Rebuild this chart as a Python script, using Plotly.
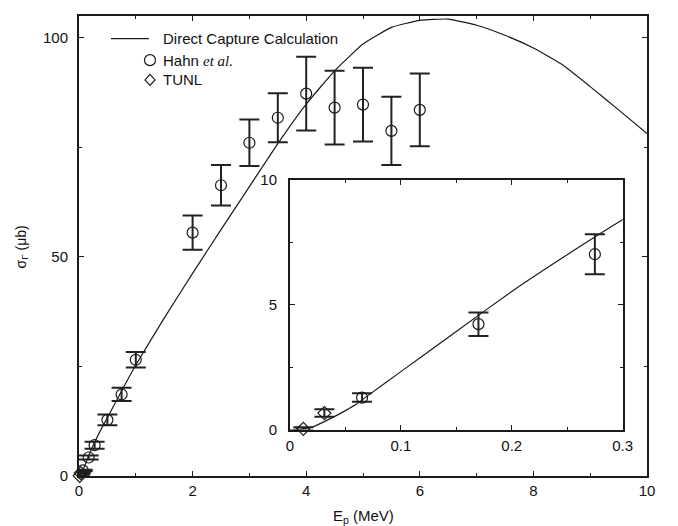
import plotly.graph_objects as go

# ---------------- data ----------------
calc_x = [0, 0.01, 0.02, 0.03, 0.04, 0.05, 0.06, 0.07, 0.1, 0.15, 0.2, 0.25, 0.3, 0.4, 0.5,
          0.75, 1.0, 1.5, 2.0, 2.5, 3.0, 3.5, 4.0, 4.5, 5.0, 5.5, 6.0,
          6.5, 7.0, 7.5, 8.0, 8.5, 9.0, 9.5, 10.0]
calc_y = [0, 0.02, 0.1, 0.3, 0.52, 0.76, 1.02, 1.35, 2.32, 3.93, 5.53, 7.0, 8.4, 10.9, 13.3,
          19.4, 25.3, 36.0, 46.2, 56.2, 66.0, 75.8, 84.8, 92.4, 98.5, 102.3, 103.9,
          104.2, 102.8, 100.5, 97.6, 93.9, 88.8, 83.5, 78.1]

hahn_x = [0.065, 0.17, 0.275, 0.5, 0.75, 1.0, 2.0, 2.5, 3.0, 3.5, 4.0, 4.5, 5.0, 5.5, 6.0]
hahn_y = [1.28, 4.22, 7.02, 12.8, 18.6, 26.5, 55.5, 66.3, 76.0, 81.7, 87.2, 84.0, 84.7, 78.7, 83.5]
hahn_err = [0.17, 0.47, 0.8, 1.2, 1.5, 1.75, 3.9, 4.6, 5.3, 5.6, 8.4, 8.4, 8.4, 7.8, 8.3]

tunl_x = [0.012, 0.031]
tunl_y = [0.03, 0.66]
tunl_err = [0.06, 0.15]

main_xticks = [0, 2, 4, 6, 8, 10]
main_yticks = [0, 50, 100]
inset_xticks = [0, 0.1, 0.2, 0.3]
inset_yticks = [0, 5, 10]

INK = "#1a1a1a"
FONT = "Liberation Sans, Arial, Helvetica, sans-serif"

fig = go.Figure()


def add_set(xa, ya, xs_limit):
    if xs_limit is None:
        hx, hy, he = hahn_x, hahn_y, hahn_err
        tx, ty, te = tunl_x, tunl_y, tunl_err
    else:
        idx = [i for i, v in enumerate(hahn_x) if v <= xs_limit]
        hx = [hahn_x[i] for i in idx]
        hy = [hahn_y[i] for i in idx]
        he = [hahn_err[i] for i in idx]
        idt = [i for i, v in enumerate(tunl_x) if v <= xs_limit]
        tx = [tunl_x[i] for i in idt]
        ty = [tunl_y[i] for i in idt]
        te = [tunl_err[i] for i in idt]
    fig.add_trace(go.Scatter(x=calc_x, y=calc_y, mode="lines", xaxis=xa, yaxis=ya,
                             line=dict(color=INK, width=1.2, shape="spline", smoothing=0.4),
                             showlegend=False, hoverinfo="skip"))
    fig.add_trace(go.Scatter(x=hx, y=hy, mode="markers", xaxis=xa, yaxis=ya,
                             cliponaxis=False,
                             marker=dict(symbol="circle-open", size=11, color=INK,
                                         line=dict(width=1.2, color=INK)),
                             error_y=dict(type="data", array=he, visible=True,
                                          thickness=2, width=10, color="#222"),
                             showlegend=False))
    fig.add_trace(go.Scatter(x=tx, y=ty, mode="markers", xaxis=xa, yaxis=ya,
                             cliponaxis=False,
                             marker=dict(symbol="diamond-open", size=10, color=INK,
                                         line=dict(width=1.2, color=INK)),
                             error_y=dict(type="data", array=te, visible=True,
                                          thickness=2, width=10, color="#222"),
                             showlegend=False))


add_set("x", "y", None)
add_set("x2", "y2", 0.3)

axis_common = dict(showline=True, linecolor=INK, linewidth=2, mirror="ticks",
                   ticks="inside", ticklen=5, tickwidth=1.2, tickcolor=INK,
                   showgrid=False, zeroline=False,
                   tickfont=dict(family=FONT, size=15, color="#111"))

fig.update_layout(
    width=678, height=526,
    margin=dict(l=79, r=31, t=7, b=50),
    paper_bgcolor="white", plot_bgcolor="white",
    showlegend=False,
    xaxis=dict(domain=[0, 1], range=[0, 10], tickvals=main_xticks,
               minor=dict(dtick=1, tick0=0, ticks="inside", ticklen=3, tickwidth=1.2, tickcolor=INK),
               ticklabelstandoff=0, **axis_common),
    yaxis=dict(domain=[0, 1], range=[0, 104.9], tickvals=main_yticks,
               minor=dict(dtick=25, tick0=0, ticks="inside", ticklen=3, tickwidth=1.2, tickcolor=INK),
               ticklabelstandoff=6, **axis_common),
    xaxis2=dict(domain=[0.3715, 0.957], range=[0, 0.3], anchor="y2", tickvals=inset_xticks,
                ticktext=["0", "0.1", "0.2", "0.3"],
                minor=dict(dtick=0.05, tick0=0, ticks="inside", ticklen=3, tickwidth=1.2, tickcolor=INK),
                ticklabelstandoff=1, **axis_common),
    yaxis2=dict(domain=[0.1009, 0.644], range=[0, 10], anchor="x2", tickvals=inset_yticks,
                minor=dict(dtick=2.5, tick0=0, ticks="inside", ticklen=3, tickwidth=1.2, tickcolor=INK),
                ticklabelstandoff=8, **axis_common),
)

# Legend (drawn manually)
fig.add_shape(type="line", xref="paper", yref="paper", x0=0.0563, x1=0.1232, y0=0.951, y1=0.951,
              line=dict(color=INK, width=1.3))
fig.add_shape(type="circle", xref="paper", yref="paper", xsizemode="pixel", ysizemode="pixel",
              xanchor=0.125, yanchor=0.904, x0=-5.5, x1=5.5, y0=-5.5, y1=5.5,
              line=dict(color=INK, width=1.2))
fig.add_shape(type="path", xref="paper", yref="paper", xsizemode="pixel", ysizemode="pixel",
              xanchor=0.125, yanchor=0.861, path="M 0,5.5 L 5,0 L 0,-5.5 L -5,0 Z",
              line=dict(color=INK, width=1.2))

leg_font = dict(family=FONT, size=15, color="#111")
fig.add_annotation(x=0.1444, y=0.951, xref="paper", yref="paper", xanchor="left", yanchor="middle",
                   text="Direct Capture Calculation", showarrow=False, font=leg_font)
fig.add_annotation(x=0.1444, y=0.904, xref="paper", yref="paper", xanchor="left", yanchor="middle",
                   text='Hahn <span style="font-family:Liberation Serif, Times New Roman, serif"><i>et al.</i></span>',
                   showarrow=False, font=leg_font)
fig.add_annotation(x=0.1444, y=0.861, xref="paper", yref="paper", xanchor="left", yanchor="middle",
                   text="TUNL", showarrow=False, font=leg_font)

# Axis titles
fig.add_annotation(x=0.5, y=-0.0874, xref="paper", yref="paper", xanchor="center", yanchor="middle",
                   text="E<sub>p</sub> (MeV)", showarrow=False, font=dict(family=FONT, size=15, color="#111"))
fig.add_annotation(x=-0.1004, y=0.499, xref="paper", yref="paper", xanchor="center", yanchor="middle",
                   text="σ<sub>Γ</sub> (μb)", textangle=-90, showarrow=False,
                   font=dict(family=FONT, size=14, color="#111"))

fig.write_html("out.html")
